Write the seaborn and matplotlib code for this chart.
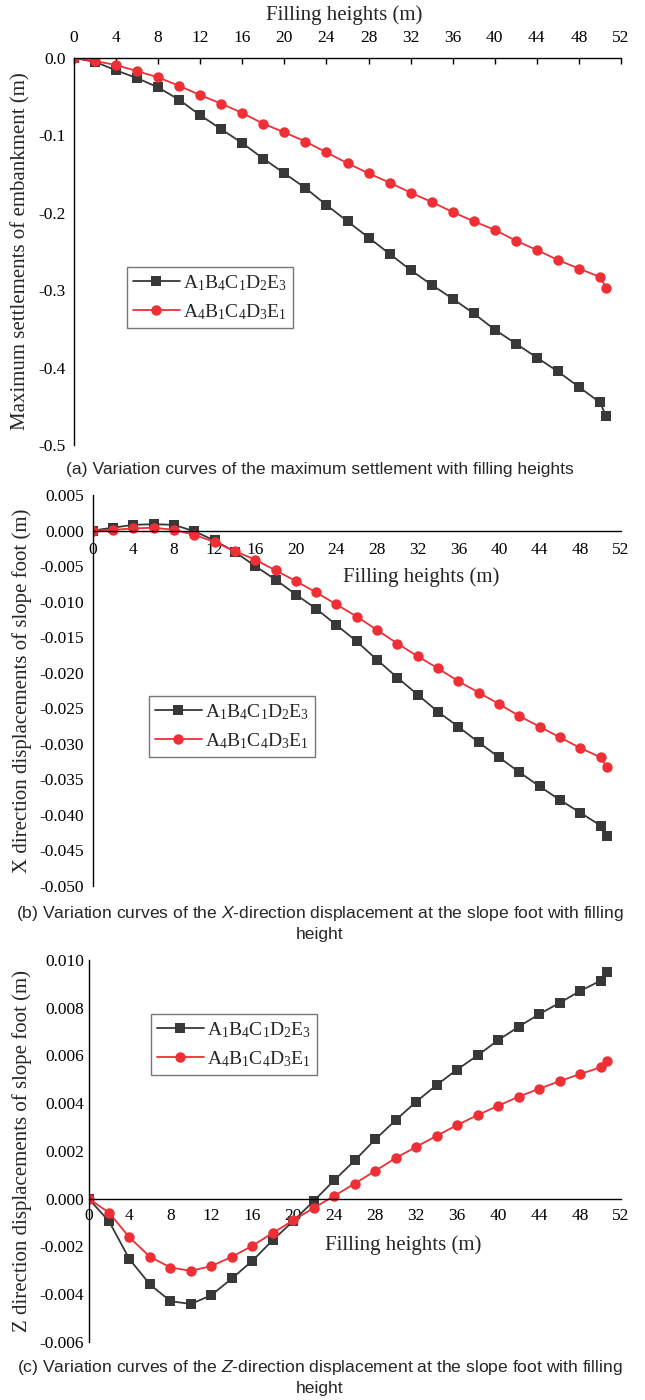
import matplotlib
matplotlib.use("Agg")
import matplotlib.pyplot as plt
import matplotlib.ticker as mticker
import numpy as np
import pandas as pd
import seaborn as sns

# ---------------- data ----------------
heights = [0, 2, 4, 6, 8, 10, 12, 14, 16, 18, 20, 22, 24, 26, 28, 30, 32, 34,
           36, 38, 40, 42, 44, 46, 48, 50, 50.6]
series_names = [r"$\mathregular{A_1B_4C_1D_2E_3}$", r"$\mathregular{A_4B_1C_4D_3E_1}$"]

settle_s1 = [0.0, -0.005, -0.016, -0.026, -0.038, -0.054, -0.074, -0.092, -0.110,
             -0.130, -0.149, -0.168, -0.190, -0.211, -0.232, -0.253, -0.274, -0.293,
             -0.311, -0.330, -0.351, -0.369, -0.387, -0.405, -0.425, -0.445, -0.463]
settle_s2 = [0.0, -0.004, -0.009, -0.017, -0.025, -0.036, -0.048, -0.059, -0.071,
             -0.085, -0.096, -0.108, -0.122, -0.136, -0.149, -0.161, -0.174, -0.186,
             -0.199, -0.211, -0.222, -0.236, -0.248, -0.261, -0.272, -0.283, -0.297]

xdisp_s1 = [0.0, 0.0004, 0.0008, 0.0009, 0.0008, -0.0001, -0.0014, -0.0030, -0.0050,
            -0.0069, -0.0090, -0.0110, -0.0133, -0.0156, -0.0182, -0.0207, -0.0231,
            -0.0255, -0.0276, -0.0298, -0.0319, -0.0340, -0.0360, -0.0379, -0.0397,
            -0.0415, -0.0430]
xdisp_s2 = [0.0, 0.0001, 0.0003, 0.0004, 0.0001, -0.0006, -0.0016, -0.0029, -0.0041,
            -0.0056, -0.0071, -0.0087, -0.0104, -0.0121, -0.0140, -0.0159, -0.0177,
            -0.0194, -0.0212, -0.0228, -0.0244, -0.0261, -0.0276, -0.0291, -0.0306,
            -0.0319, -0.0333]

zdisp_s1 = [0.0, -0.00095, -0.00254, -0.0036, -0.0043, -0.00442, -0.00405, -0.00335,
            -0.00261, -0.00174, -0.00094, -0.0001, 0.00077, 0.0016, 0.00248, 0.00329,
            0.00406, 0.00476, 0.00541, 0.0060, 0.00664, 0.0072, 0.00773, 0.0082,
            0.0087, 0.00913, 0.0095]
zdisp_s2 = [0.0, -0.00059, -0.00163, -0.00244, -0.00289, -0.00303, -0.00283, -0.00244,
            -0.00198, -0.00144, -0.00091, -0.00039, 0.00011, 0.00063, 0.00116, 0.0017,
            0.00217, 0.00263, 0.00308, 0.0035, 0.00389, 0.00427, 0.0046, 0.00492,
            0.00522, 0.0055, 0.00578]

x_ticks = list(range(0, 53, 4))
ylabels = ["Maximum settlements of embankment (m)",
           "X direction displacements of slope foot (m)",
           "Z direction displacements of slope foot (m)"]
xlabel_text = "Filling heights (m)"
captions = ["(a) Variation curves of the maximum settlement with filling heights",
            "(b) Variation curves of the $X$-direction displacement at the slope foot with filling\nheight",
            "(c) Variation curves of the $Z$-direction displacement at the slope foot with filling\nheight"]

# ---------------- style ----------------
sns.set_theme(style="white")
plt.rcParams["font.family"] = ["Liberation Serif", "DejaVu Serif"]
plt.rcParams["axes.unicode_minus"] = False
plt.rcParams["mathtext.fontset"] = "custom"
plt.rcParams["mathtext.it"] = "Liberation Sans:italic"
plt.rcParams["mathtext.rm"] = "Liberation Sans"

BLACK = "#383838"
RED = "#ee2f36"
palette = {series_names[0]: BLACK, series_names[1]: RED}
markers = {series_names[0]: "s", series_names[1]: "o"}
CAP_FONT = ["Liberation Sans", "DejaVu Sans"]

W, H = 645, 1400
fig = plt.figure(figsize=(W / 100, H / 100), dpi=100)


def frac_rect(left, right, top, bottom):
    return [left / W, 1 - bottom / H, (right - left) / W, (bottom - top) / H]


def make_df(s1, s2):
    return pd.DataFrame({
        "h": heights * 2,
        "v": list(s1) + list(s2),
        "scheme": [series_names[0]] * len(heights) + [series_names[1]] * len(heights),
    })


def fmt(decimals):
    def f(v, pos):
        if abs(v) < 1e-12:
            v = 0.0
        return f"{v:.{decimals}f}"
    return mticker.FuncFormatter(f)


def draw(ax, df):
    sns.lineplot(data=df, x="h", y="v", hue="scheme", style="scheme",
                 palette=palette, markers=markers, dashes=False,
                 markersize=7.5, linewidth=1.3, markeredgewidth=0,
                 errorbar=None, ax=ax, legend=True)
    ax.set_xlim(0, 52)
    ax.set_xticks(x_ticks)
    ax.tick_params(axis="both", direction="in", length=4, width=1.0,
                   labelsize=12.5, colors="black")
    for s in ax.spines.values():
        s.set_color("black")
        s.set_linewidth(1.0)


def style_legend(ax, rect_px):
    handles, labels = ax.get_legend_handles_labels()
    l, r, t, b = rect_px
    leg = ax.legend(handles, labels, loc="upper left",
                    bbox_to_anchor=(l / W, 1 - t / H), bbox_transform=fig.transFigure,
                    fontsize=14, frameon=True, fancybox=False, handlelength=2.4,
                    handletextpad=0.2, borderpad=0.3, labelspacing=0.5,
                    borderaxespad=0)
    fr = leg.get_frame()
    fr.set_edgecolor("#555555")
    fr.set_linewidth(1.0)


# ---------- panel (a) ----------
axa = fig.add_axes(frac_rect(74, 621, 58, 445))
draw(axa, make_df(settle_s1, settle_s2))
axa.set_ylim(-0.5, 0.0)
axa.set_yticks(np.round(np.arange(-0.5, 0.01, 0.1), 1))
axa.yaxis.set_major_formatter(fmt(1))
axa.xaxis.tick_top()
axa.xaxis.set_label_position("top")
axa.spines["bottom"].set_visible(False)
axa.spines["right"].set_visible(False)
axa.tick_params(axis="x", pad=9)
axa.tick_params(axis="y", pad=6)
axa.set_xlabel(xlabel_text, fontsize=15, va="center")
axa.xaxis.set_label_coords(0.4936, (445 - 15.5) / 387)
axa.set_ylabel(ylabels[0], fontsize=15, va="center")
axa.yaxis.set_label_coords((21 - 74) / 547, 0.5)
style_legend(axa, (127, 284, 267, 329))

# ---------- panel (b) ----------
axb = fig.add_axes(frac_rect(92.6, 621, 495, 886))
draw(axb, make_df(xdisp_s1, xdisp_s2))
axb.set_ylim(-0.050, 0.005)
axb.set_yticks(np.round(np.arange(-0.050, 0.0051, 0.005), 3))
axb.yaxis.set_major_formatter(fmt(3))
axb.spines["bottom"].set_position(("data", 0))
axb.spines["top"].set_visible(False)
axb.spines["right"].set_visible(False)
axb.tick_params(axis="x", pad=8)
axb.tick_params(axis="y", pad=6)
axb.set_xlabel(xlabel_text, fontsize=15, va="center")
axb.xaxis.set_label_coords((421 - 92.6) / 528.4, (886 - 577) / 391)
axb.set_ylabel(ylabels[1], fontsize=15, va="center")
axb.yaxis.set_label_coords((22 - 92.6) / 528.4, 0.5)
style_legend(axb, (149, 304, 696, 758))

# ---------- panel (c) ----------
axc = fig.add_axes(frac_rect(88.5, 621, 960, 1341.7))
draw(axc, make_df(zdisp_s1, zdisp_s2))
axc.set_ylim(-0.006, 0.010)
axc.set_yticks(np.round(np.arange(-0.006, 0.0101, 0.002), 3))
axc.yaxis.set_major_formatter(fmt(3))
axc.spines["bottom"].set_position(("data", 0))
axc.spines["top"].set_visible(False)
axc.spines["right"].set_visible(False)
axc.tick_params(axis="x", pad=7)
axc.tick_params(axis="y", pad=3)
axc.set_xlabel(xlabel_text, fontsize=15, va="center")
axc.xaxis.set_label_coords((403 - 88.5) / 532.5, (1341.7 - 1245) / 381.7)
axc.set_ylabel(ylabels[2], fontsize=15, va="center")
axc.yaxis.set_label_coords((22 - 88.5) / 532.5, 0.5)
style_legend(axc, (151, 303, 1014, 1074))

# ---------- captions ----------
fig.text(320 / W, 1 - 470 / H, captions[0], ha="center", va="center",
         fontsize=12.6, family=CAP_FONT)
fig.text(320 / W, 1 - 923 / H, captions[1], ha="center", va="center",
         fontsize=12.6, family=CAP_FONT, linespacing=1.3)
fig.text(320 / W, 1 - 1377 / H, captions[2], ha="center", va="center",
         fontsize=12.6, family=CAP_FONT, linespacing=1.3)

fig.savefig("out.png", dpi=100)
